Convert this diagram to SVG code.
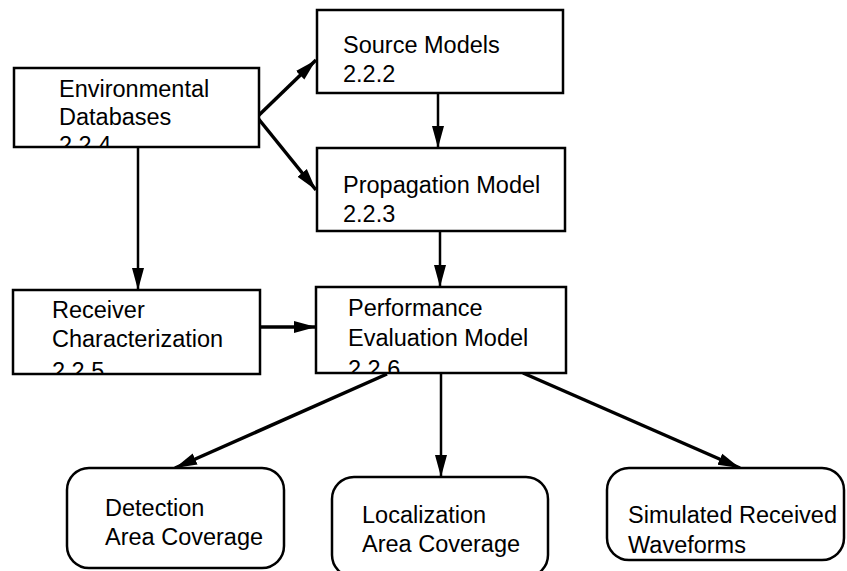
<svg xmlns="http://www.w3.org/2000/svg" width="847" height="571" viewBox="0 0 847 571">
<style>
.box{fill:#fff;stroke:#000;stroke-width:2.5}
.t{font-family:"Liberation Sans",Arial,sans-serif;font-size:23.5px;fill:#000}
.c{fill:none;stroke:#000;stroke-width:3.5}
.c2{fill:none;stroke:#000;stroke-width:2.5}
</style>
<defs>
<marker id="ah" markerUnits="userSpaceOnUse" markerWidth="24" markerHeight="14" refX="22" refY="7" orient="auto">
<path d="M0,1 L22,7 L0,13 Z" fill="#000"/>
</marker>
<clipPath id="cEnv"><rect x="14" y="68" width="245" height="78"/></clipPath>
<clipPath id="cRec"><rect x="13" y="290" width="247" height="83"/></clipPath>
<clipPath id="cPerf"><rect x="316" y="287" width="250" height="85"/></clipPath>
<clipPath id="cLoc"><rect x="332" y="477" width="216" height="94"/></clipPath>
</defs>
<g id="connectors">
<path class="c" d="M257,117 L316,60" marker-end="url(#ah)"/>
<path class="c" d="M257,117 L316,190" marker-end="url(#ah)"/>
<path class="c2" d="M438,93 L438,148" marker-end="url(#ah)"/>
<path class="c2" d="M138,147 L138,290" marker-end="url(#ah)"/>
<path class="c2" d="M440,231 L440,287" marker-end="url(#ah)"/>
<path class="c" d="M260,327 L316,327" marker-end="url(#ah)"/>
<path class="c" d="M387,374 L175,468" marker-end="url(#ah)"/>
<path class="c2" d="M441,373 L441,477" marker-end="url(#ah)"/>
<path class="c" d="M523,373 L740,468" marker-end="url(#ah)"/>
</g>
<g id="env">
<rect class="box" x="14" y="68" width="245" height="79"/>
<g clip-path="url(#cEnv)">
<text class="t" x="59" y="97">Environmental</text>
<text class="t" x="59" y="125">Databases</text>
<text class="t" x="59" y="153">2.2.4</text>
</g>
</g>
<g id="source">
<rect class="box" x="317" y="10" width="246" height="83"/>
<text class="t" x="343" y="53">Source Models</text>
<text class="t" x="343" y="82">2.2.2</text>
</g>
<g id="propagation">
<rect class="box" x="317" y="148" width="248" height="83"/>
<text class="t" x="343" y="193">Propagation Model</text>
<text class="t" x="343" y="222">2.2.3</text>
</g>
<g id="receiver">
<rect class="box" x="13" y="290" width="247" height="84"/>
<g clip-path="url(#cRec)">
<text class="t" x="52" y="318">Receiver</text>
<text class="t" x="52" y="347">Characterization</text>
<text class="t" x="52" y="379">2.2.5</text>
</g>
</g>
<g id="performance">
<rect class="box" x="316" y="287" width="250" height="86"/>
<g clip-path="url(#cPerf)">
<text class="t" x="348" y="316">Performance</text>
<text class="t" x="348" y="346">Evaluation Model</text>
<text class="t" x="348" y="377">2.2.6</text>
</g>
</g>
<g id="detection">
<rect class="box" x="67" y="468" width="217" height="100" rx="22"/>
<text class="t" x="105" y="516">Detection</text>
<text class="t" x="105" y="545">Area Coverage</text>
</g>
<g id="localization">
<rect class="box" x="332" y="477" width="216" height="100" rx="22"/>
<g clip-path="url(#cLoc)">
<text class="t" x="362" y="523">Localization</text>
<text class="t" x="362" y="552">Area Coverage</text>
</g>
</g>
<g id="simulated">
<rect class="box" x="607" y="468" width="237" height="92" rx="22"/>
<text class="t" x="628" y="523">Simulated Received</text>
<text class="t" x="628" y="553">Waveforms</text>
</g>
</svg>
